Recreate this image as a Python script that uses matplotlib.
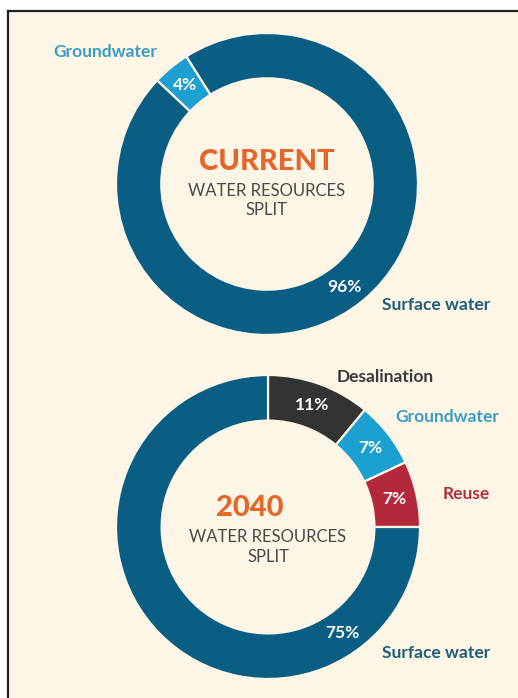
import matplotlib.pyplot as plt
import numpy as np
from matplotlib.patches import Rectangle

# data
current_labels = ["Groundwater", "Surface water"]
current_values = [4, 96]
future_labels = ["Desalination", "Groundwater", "Reuse", "Surface water"]
future_values = [11, 7, 7, 75]

colors = {
    "Surface water": "#0a5e84",
    "Groundwater": "#1c9fd1",
    "Desalination": "#333333",
    "Reuse": "#b3283b",
}
label_colors = {
    "Surface water": "#1f5f7a",
    "Groundwater": "#3b9cc4",
    "Desalination": "#3a3a3a",
    "Reuse": "#b0303f",
}
bg = "#fdf5e6"
orange = "#e3662a"
W, H = 518, 698

plt.rcParams['font.family'] = ['Lato', 'DejaVu Sans']

fig = plt.figure(figsize=(W / 100, H / 100), dpi=100)
fig.patch.set_facecolor("white")
# cream card with dark top/left border
fig.patches.append(Rectangle((8 / W, 0), 1, 1 - 11 / H, transform=fig.transFigure,
                             facecolor=bg, edgecolor="none", zorder=-5))
fig.add_artist(plt.Line2D([8 / W, 8 / W], [0, 1 - 11 / H], transform=fig.transFigure,
                          color="#222222", lw=1.6, zorder=-4))
fig.add_artist(plt.Line2D([8 / W, 1], [1 - 11 / H, 1 - 11 / H], transform=fig.transFigure,
                          color="#222222", lw=1.6, zorder=-4))


def donut_axes(cx, cy, r):
    ax = fig.add_axes([(cx - r) / W, (H - cy - r) / H, 2 * r / W, 2 * r / H])
    ax.set_axis_off()
    return ax


def draw_donut(ax, labels, values, startangle, pct_override):
    wedges, _, autotexts = ax.pie(
        values, colors=[colors[l] for l in labels], startangle=startangle,
        counterclock=False, radius=1, autopct='%.0f%%', pctdistance=0.85,
        wedgeprops=dict(width=0.30, edgecolor=bg, linewidth=1.6),
        textprops=dict(color="white", fontsize=12.5, fontweight="bold"))
    for lab, t in zip(labels, autotexts):
        if lab in pct_override:
            a = np.deg2rad(pct_override[lab])
            t.set_position((0.85 * np.cos(a), 0.85 * np.sin(a)))
    ax.set_xlim(-1, 1)
    ax.set_ylim(-1, 1)
    ax.set_aspect("auto")


def center_text(ax, title, ty, tx=0.0):
    ax.text(tx, ty, title, ha="center", va="center", color=orange,
            fontsize=21, fontweight="black")
    ax.text(0, ty - 0.19, "WATER RESOURCES", ha="center", va="center",
            color="#4a4a4a", fontsize=12)
    ax.text(0, ty - 0.32, "SPLIT", ha="center", va="center",
            color="#4a4a4a", fontsize=12)


def outer_label(ax, lab, x, y, ha="left"):
    ax.text(x, y, lab, ha=ha, va="center", color=label_colors[lab],
            fontsize=12.5, fontweight="bold")


# current split
ax1 = donut_axes(267, 184, 151)
draw_donut(ax1, current_labels, current_values, 136.7, {"Surface water": -53})
center_text(ax1, "CURRENT", 0.146)
outer_label(ax1, "Groundwater", -0.73, 0.874, ha="right")
outer_label(ax1, "Surface water", 0.76, -0.80)

# 2040 split
ax2 = donut_axes(268, 527, 152)
draw_donut(ax2, future_labels, future_values, 90, {"Surface water": -55})
center_text(ax2, "2040", 0.125, tx=-0.118)
outer_label(ax2, "Desalination", 0.454, 0.987)
outer_label(ax2, "Groundwater", 0.836, 0.724)
outer_label(ax2, "Reuse", 1.151, 0.217)
outer_label(ax2, "Surface water", 0.75, -0.829)

fig.savefig("out.png", dpi=100, facecolor=fig.get_facecolor())
